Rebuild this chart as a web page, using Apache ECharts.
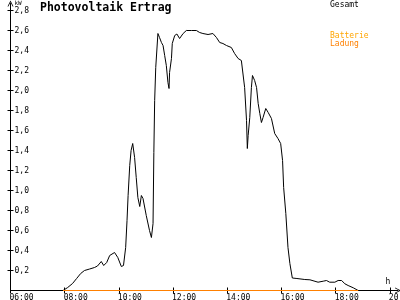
<!DOCTYPE html>
<html><head><meta charset="utf-8">
<script src="https://cdn.jsdelivr.net/npm/echarts@6/dist/echarts.min.js"></script>
<style>html,body{margin:0;padding:0;background:#fff}#c{width:400px;height:300px}</style>
</head><body><div id="c"></div>
<script>
// hours (decimal) and kW values
var hours = [7.94,8.11,8.29,8.44,8.59,8.73,8.92,9.10,9.21,9.35,9.44,9.55,9.66,9.84,9.96,10.09,10.17,10.25,10.30,10.34,10.40,10.45,10.51,10.58,10.64,10.70,10.77,10.83,10.89,11.01,11.13,11.20,11.26,11.29,11.32,11.36,11.44,11.50,11.57,11.63,11.69,11.75,11.81,11.85,11.87,11.94,11.97,12.06,12.14,12.24,12.37,12.49,12.68,12.86,12.98,13.10,13.29,13.47,13.60,13.72,13.84,13.97,14.15,14.27,14.40,14.52,14.58,14.64,14.71,14.74,14.77,14.83,14.89,14.93,15.01,15.08,15.14,15.20,15.26,15.32,15.42,15.51,15.63,15.75,15.87,15.97,16.04,16.08,16.16,16.24,16.31,16.40,16.57,16.86,17.05,17.35,17.54,17.66,17.78,17.97,18.09,18.22,18.34,18.46,18.65,18.83];
var gesamt = [0,0.03,0.07,0.12,0.17,0.20,0.215,0.23,0.245,0.29,0.25,0.28,0.35,0.38,0.33,0.24,0.25,0.43,0.70,0.95,1.25,1.40,1.47,1.33,1.13,0.93,0.84,0.95,0.92,0.75,0.60,0.53,0.67,1.38,1.90,2.23,2.57,2.53,2.48,2.45,2.35,2.25,2.08,2.02,2.18,2.32,2.47,2.55,2.565,2.52,2.57,2.60,2.60,2.60,2.58,2.57,2.56,2.57,2.53,2.48,2.47,2.45,2.43,2.37,2.32,2.30,2.28,2.03,1.70,1.42,1.55,1.73,2.03,2.15,2.10,2.03,1.87,1.77,1.68,1.73,1.82,1.78,1.72,1.57,1.52,1.47,1.30,1.03,0.77,0.43,0.27,0.125,0.12,0.11,0.107,0.083,0.093,0.10,0.083,0.083,0.10,0.10,0.067,0.05,0.027,0];
var ladungHours = [7.94,18.83];
var ladung = [0,0];
var yTicks = [0.2,0.4,0.6,0.8,1.0,1.2,1.4,1.6,1.8,2.0,2.2,2.4,2.6,2.8];
var xTicks = [6,8,10,12,14,16,18,20];

function pairs(a,b){return a.map(function(v,i){return [v,b[i]];});}
var mono = 'DejaVu Sans Mono';
var arrow = 'path://M0,10 L5,0 L10,10 L8.6,10 L5,2.8 L1.4,10 Z';
var chart = echarts.init(document.getElementById('c'), null, {renderer:'canvas'});
chart.setOption({
  animation:false,
  backgroundColor:'#fff',
  title:[
    {text:'Photovoltaik Ertrag', left:40, top:2, padding:0, textStyle:{fontFamily:mono, fontWeight:'bold', fontSize:11.5, color:'#000'}},
    {text:'Gesamt', left:330, top:1, padding:0, textStyle:{fontFamily:mono, fontWeight:'normal', fontSize:8, color:'#000'}},
    {text:'Batterie', left:330, top:32, padding:0, textStyle:{fontFamily:mono, fontWeight:'normal', fontSize:8, color:'#FFA500'}},
    {text:'Ladung', left:330, top:40, padding:0, textStyle:{fontFamily:mono, fontWeight:'normal', fontSize:8, color:'#FF8000'}}
  ],
  grid:{left:10.5, right:2, top:3.5, bottom:9.5, containLabel:false, outerBoundsMode:'none'},
  xAxis:[{
    type:'value', min:6, max:20.3,
    name:'h', nameLocation:'end', nameGap:-10,
    nameTextStyle:{fontFamily:mono, fontSize:8, color:'#000', align:'center', verticalAlign:'bottom', padding:[0,0,5,0]},
    axisLine:{show:true, onZero:false, lineStyle:{color:'#000', width:1}, symbol:['none',arrow], symbolSize:[7,6]},
    axisTick:{show:true, customValues:xTicks, length:3, lineStyle:{color:'#000'}},
    axisLabel:{show:true, customValues:xTicks, margin:3, align:'center', padding:[0,0,0,22], hideOverlap:false,
      fontFamily:mono, fontSize:8, color:'#000',
      formatter:function(v){var h=Math.round(v);return (h<10?'0':'')+h+':00';}},
    splitLine:{show:false}
  },{
    type:'value', min:6, max:20.3, gridIndex:0, position:'bottom',
    axisLine:{show:false}, axisLabel:{show:false}, splitLine:{show:false},
    axisTick:{show:true, inside:true, customValues:xTicks, length:3, lineStyle:{color:'#000'}}
  }],
  yAxis:[{
    type:'value', min:0, max:2.87,
    name:'kW', nameLocation:'end', nameGap:-4,
    nameTextStyle:{fontFamily:mono, fontSize:6, color:'#000', align:'left', verticalAlign:'bottom', padding:[0,0,0,4]},
    axisLine:{show:true, onZero:false, lineStyle:{color:'#000', width:1}, symbol:['none',arrow], symbolSize:[7,6]},
    axisTick:{show:true, customValues:yTicks, length:3, lineStyle:{color:'#000'}},
    axisLabel:{show:true, inside:true, customValues:yTicks, margin:4, fontFamily:mono, fontSize:8, color:'#000',
      formatter:function(v){return v.toFixed(1).replace('.',',');}},
    splitLine:{show:false}
  },{
    type:'value', min:0, max:2.87, gridIndex:0, position:'left',
    axisLine:{show:false}, axisLabel:{show:false}, splitLine:{show:false},
    axisTick:{show:true, inside:true, customValues:yTicks, length:3, lineStyle:{color:'#000'}}
  }],
  series:[
    {name:'Gesamt', type:'line', xAxisIndex:0, yAxisIndex:0, data:pairs(hours,gesamt), showSymbol:false, symbol:'none',
      lineStyle:{color:'#000', width:1}, z:3},
    {name:'Batterie Ladung', type:'line', xAxisIndex:0, yAxisIndex:0, data:pairs(ladungHours,ladung), showSymbol:false, symbol:'none',
      lineStyle:{color:'#FF8000', width:1}, z:4}
  ]
});
</script></body></html>
